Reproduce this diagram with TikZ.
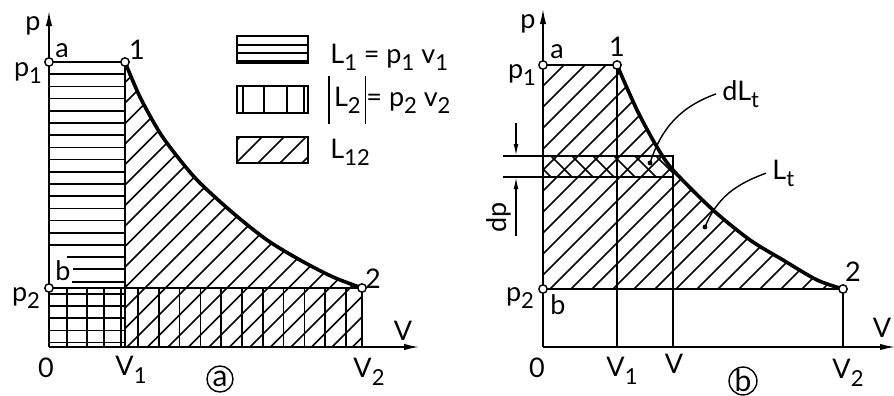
\documentclass[tikz,border=0pt]{standalone}
\usepackage{fontspec}
\setmainfont{Lato}
\usetikzlibrary{arrows.meta,positioning}
\newcommand\lowidx[1]{\raisebox{-0.55ex}{\fontsize{11}{11}\selectfont #1}}
\tikzset{
  axis/.style={line width=1pt, -{Latex[length=8pt,width=3.2pt]}},
  edge/.style={line width=1pt},
  hatch/.style={line width=0.8pt},
  curveline/.style={line width=1.8pt},
  dimarrow/.style={line width=0.7pt, -{Latex[length=6pt,width=2.4pt]}},
  leader/.style={line width=0.7pt},
  statept/.style={circle, draw, line width=0.7pt, fill=white,
                  inner sep=0pt, minimum size=4.2pt},
  lbl/.style={font=\fontsize{13.5}{14}\selectfont, inner sep=0pt},
  tagcircle/.style={circle, draw, line width=0.7pt, inner sep=0pt,
                    minimum size=13pt, font=\fontsize{15}{15}\selectfont}
}
\begin{document}
\begin{tikzpicture}[x=0.5pt,y=-0.5pt]
\useasboundingbox (0,0) rectangle (894,396);

% ---------- diagram (a)
\coordinate (Oa)  at (49,347);
\coordinate (pa)  at (49,10);
\coordinate (va)  at (420,347);
\coordinate (a1)  at (49,62);
\coordinate (s1)  at (125,62);
\coordinate (b1)  at (49,288);
\coordinate (s2)  at (362,288);
\coordinate (V1a) at (125,347);
\coordinate (V2a) at (362,347);

% L1: horizontal hatching
\foreach \k in {1,2,3,4,5,6,7,8,9,10,11,12,13,14,15,19,20,21,22,23}
  \draw[hatch] (49,{62+12.2*\k}) -- (125,{62+12.2*\k});
\draw[hatch] (67,257) -- (125,257);
\draw[hatch] (73,269) -- (125,269);
\draw[hatch] (72,282) -- (125,282);
% L2: vertical hatching
\foreach \x in {67,87,104,121}
  \draw[hatch] (\x,288) -- (\x,347);
\foreach \k in {0,...,10}
  \draw[hatch] ({138+20.8*\k},288) -- ({138+20.8*\k},347);
% L12: diagonal hatching
\begin{scope}
  \clip plot[smooth] coordinates {(125,62) (140,97) (160,133) (180,160) (200,183)
        (233,213) (267,240) (300,260) (333,277) (362,288)} -- (V2a) -- (V1a) -- cycle;
  \foreach \k in {0,...,26}
    \draw[hatch] ({-160+20.5*\k},347) -- ++(300,-300);
\end{scope}

\draw[edge] (a1) -- (s1) -- (V1a);
\draw[edge] (b1) -- (s2) -- (V2a);
\draw[curveline] plot[smooth] coordinates {(125,62) (140,97) (160,133) (180,160)
      (200,183) (233,213) (267,240) (300,260) (333,277) (362,288)};
\draw[axis] (Oa) -- (pa);
\draw[axis] (Oa) -- (va);
\foreach \n in {a1,s1,b1,s2}
  \node[statept] at (\n) {};

\node[lbl] (pA)   at (33,26)  {p};
\node[lbl] (aA)   at (62,51)  {a};
\node[lbl] (oneA) at (137,50) {1};
\node[lbl] (p1A)  at (28,73)  {p\lowidx{1}};
\node[lbl] (bA)   at (63,271) {b};
\node[lbl] (p2A)  at (26,298) {p\lowidx{2}};
\node[lbl] (twoA) at (373,279) {2};
\node[lbl] (zA)   at (46,368) {0};
\node[lbl] (V1A)  at (131,370) {V\lowidx{1}};
\node[lbl] (V2A)  at (369,372) {V\lowidx{2}};
\node[lbl] (vA)   at (403,331) {V};
\node[tagcircle] (tagA) at (220,379) {a};

% legend
\draw[edge] (237,36) rectangle (308,63);
\foreach \y in {45,53,61}
  \draw[hatch] (237,\y) -- (308,\y);
\draw[edge] (237,86) rectangle (308,113);
\foreach \x in {243,264,287,304}
  \draw[hatch] (\x,86) -- (\x,113);
\draw[edge] (237,137) rectangle (308,163);
\begin{scope}
  \clip (237,137) rectangle (308,163);
  \foreach \k in {0,...,5}
    \draw[hatch] ({214+22*\k},163) -- ++(40,-40);
\end{scope}
\node[lbl, anchor=base west] (leg1) at (330,63)
  {L\lowidx{1} = p\lowidx{1} v\lowidx{1}};
\node[lbl, anchor=base west] (leg2) at (328,106)
  {\rule[-9pt]{0.6pt}{24pt}\,L\lowidx{2}\,\rule[-9pt]{0.6pt}{24pt}= p\lowidx{2} v\lowidx{2}};
\node[lbl, anchor=base west] (leg3) at (330,158) {L\lowidx{12}};

% ---------- diagram (b)
\coordinate (Ob)  at (543,347);
\coordinate (pb)  at (543,8);
\coordinate (vb)  at (896,347);
\coordinate (a2)  at (543,65);
\coordinate (t1)  at (617,65);
\coordinate (b2)  at (543,289);
\coordinate (t2)  at (843,289);
\coordinate (V1b) at (617,347);
\coordinate (Vb)  at (673,347);
\coordinate (V2b) at (843,347);
\coordinate (bandTL) at (503,156);
\coordinate (bandTR) at (673,156);
\coordinate (bandBL) at (503,177);
\coordinate (bandBR) at (673,177);

\begin{scope}
  \clip plot[smooth] coordinates {(617,65) (637,110) (657,147) (673,170) (713,210)
        (750,240) (783,260) (817,280) (843,289)} -- (b2) -- (a2) -- cycle;
  \foreach \k in {0,...,26}
    \draw[hatch] ({340+21*\k},289) -- ++(300,-300);
\end{scope}
\begin{scope}
  \clip (543,156) rectangle (673,177);
  \foreach \k in {0,...,8}
    \draw[hatch] ({530+21*\k},156) -- ++(40,40);
\end{scope}

\draw[edge] (a2) -- (t1) -- (V1b);
\draw[edge] (b2) -- (t2) -- (V2b);
\draw[edge] (bandTL) -- (bandTR) -- (Vb);
\draw[edge] (bandBL) -- (bandBR);
\draw[curveline] plot[smooth] coordinates {(617,65) (637,110) (657,147) (673,170)
      (713,210) (750,240) (783,260) (817,280) (843,289)};
\draw[axis] (Ob) -- (pb);
\draw[axis] (Ob) -- (vb);
\foreach \n in {a2,t1,b2,t2}
  \node[statept] at (\n) {};

\draw[dimarrow] (516,123) -- (516,156);
\draw[dimarrow] (516,236) -- (516,177);
\node[lbl, rotate=90] (dpB) at (499,217) {dp};

\node[lbl, anchor=base west] (dLt) at (722,100) {dL\lowidx{t}};
\coordinate (dLtdot) at (650,163);
\draw[leader] ([xshift=-3pt]dLt.west) to[out=200,in=72] (dLtdot);
\fill (dLtdot) circle (1.2pt);
\node[lbl, anchor=base west] (Lt) at (772,179) {L\lowidx{t}};
\coordinate (Ltdot) at (705,227);
\draw[leader] ([xshift=-3pt]Lt.west) to[out=200,in=68] (Ltdot);
\fill (Ltdot) circle (1.2pt);

\node[lbl] (pB)   at (528,24)  {p};
\node[lbl] (aB)   at (557,52)  {a};
\node[lbl] (oneB) at (617,47)  {1};
\node[lbl] (p1B)  at (522,75)  {p\lowidx{1}};
\node[lbl] (p2B)  at (520,298) {p\lowidx{2}};
\node[lbl] (bB)   at (558,305) {b};
\node[lbl] (twoB) at (853,272) {2};
\node[lbl] (zB)   at (537,368) {0};
\node[lbl] (V1B)  at (622,371) {V\lowidx{1}};
\node[lbl] (VB)   at (674,364) {V};
\node[lbl] (V2B)  at (848,373) {V\lowidx{2}};
\node[lbl] (vB)   at (882,328) {V};
\node[tagcircle] (tagB) at (743,381) {b};
\end{tikzpicture}
\end{document}
